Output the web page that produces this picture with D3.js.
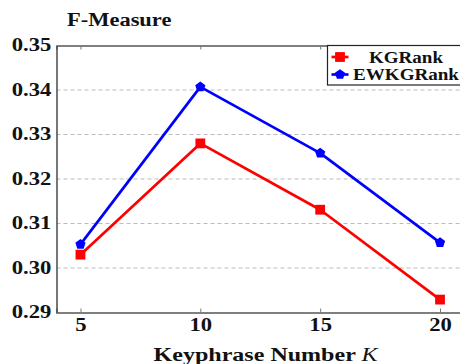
<!DOCTYPE html>
<html>
<head>
<meta charset="utf-8">
<script src="https://cdn.jsdelivr.net/npm/d3@7/dist/d3.min.js"></script>
<style>
  html, body { margin: 0; padding: 0; background: #fff; }
  svg { display: block; }
  text { font-family: "Liberation Serif", "DejaVu Serif", serif; font-weight: bold; fill: #111; }
</style>
</head>
<body>
<svg id="chart" width="460" height="364"></svg>
<script>
// Keyphrase number K on the x axis
const kValues = [5, 10, 15, 20];
// F-measure of each method
const kgRank = [0.303, 0.328, 0.3131, 0.2929];
const ewkgRank = [0.3053, 0.3407, 0.3258, 0.3057];
const seriesNames = ["KGRank", "EWKGRank"];
const seriesColors = ["#ff0000", "#0000ff"];
const yTicks = [0.29, 0.30, 0.31, 0.32, 0.33, 0.34, 0.35];

const serif = "'Liberation Serif', 'DejaVu Serif', serif";
const tickStretch = 1.26;   // widen the glyphs towards a Computer Modern look
const svg = d3.select("#chart");
const plot = { left: 56.5, right: 464, top: 45.5, bottom: 312.5 };

const x = d3.scaleLinear().domain([4, 21]).range([plot.left, plot.right]);
const y = d3.scaleLinear().domain([0.29, 0.35]).range([plot.bottom, plot.top]);

// place a text at (px, py) and stretch it horizontally to a given width
function label(parent, px, py, anchor, size, width) {
  const g = parent.append("g").attr("transform", `translate(${px},${py})`);
  const t = g.append("text").attr("text-anchor", anchor).attr("font-size", size);
  t.fit = () => {
    const w = t.node().getComputedTextLength();
    t.attr("transform", `scale(${width / w},1)`);
    return t;
  };
  return t;
}

// horizontal dashed grid
svg.append("g")
  .selectAll("line")
  .data(yTicks.slice(1, -1))
  .join("line")
  .attr("x1", plot.left).attr("x2", plot.right)
  .attr("y1", d => y(d)).attr("y2", d => y(d))
  .attr("stroke", "#bbb").attr("stroke-width", 1)
  .attr("stroke-dasharray", "4,3");

// axes
const xAxis = svg.append("g")
  .attr("transform", `translate(0,${plot.bottom})`)
  .call(d3.axisBottom(x).tickValues(kValues).tickSize(-4).tickPadding(6).tickFormat(d3.format("d")));
const xAxisTop = svg.append("g")
  .attr("transform", `translate(0,${plot.top})`)
  .call(d3.axisTop(x).tickValues(kValues).tickSize(-4).tickFormat(""));
const yAxis = svg.append("g")
  .attr("transform", `translate(${plot.left},0)`)
  .call(d3.axisLeft(y).tickValues(yTicks).tickSize(0).tickPadding(4).tickFormat(d3.format(".2f")));

[xAxis, xAxisTop, yAxis].forEach(g => {
  g.select(".domain").attr("stroke", "#555").attr("stroke-width", 1.6);
  g.selectAll(".tick line").attr("stroke", "#777").attr("stroke-width", 1);
  g.selectAll("text").attr("font-family", serif).attr("font-weight", "bold")
    .attr("font-size", 18).attr("fill", "#111")
    .attr("transform", `scale(${tickStretch},1)`);
});
yAxis.selectAll("text").attr("dy", "0.28em");
xAxis.selectAll("text").attr("dy", "0.71em");

// lines and markers
const seriesData = [kgRank, ewkgRank];
const line = d3.line().x((d, i) => x(kValues[i])).y(d => y(d));
const squareSym = d3.symbol().type(d3.symbolSquare).size(96);
const pentagon = {
  draw(ctx, size) {
    const r = Math.sqrt(size / 2.378);
    for (let i = 0; i < 5; i++) {
      const a = -Math.PI / 2 + i * 2 * Math.PI / 5;
      const px = r * Math.cos(a), py = r * Math.sin(a);
      if (i === 0) ctx.moveTo(px, py); else ctx.lineTo(px, py);
    }
    ctx.closePath();
  }
};
const pentSym = d3.symbol().type(pentagon).size(68);
const symbols = [squareSym, pentSym];

seriesData.forEach((vals, s) => {
  svg.append("path")
    .datum(vals)
    .attr("d", line)
    .attr("fill", "none")
    .attr("stroke", seriesColors[s])
    .attr("stroke-width", 2.7)
    .attr("stroke-linejoin", "round");
  svg.append("g")
    .selectAll("path")
    .data(vals)
    .join("path")
    .attr("transform", (d, i) => `translate(${x(kValues[i])},${y(d)})`)
    .attr("d", symbols[s]())
    .attr("fill", seriesColors[s]);
});

// legend
const legend = svg.append("g").attr("transform", "translate(327.5,45.5)");
legend.append("rect")
  .attr("width", 140).attr("height", 39.5)
  .attr("fill", "#fff").attr("stroke", "#222").attr("stroke-width", 1.2);
const legendWidths = [74, 106];
seriesNames.forEach((name, s) => {
  const cy = 11.5 + s * 17.5;
  legend.append("line")
    .attr("x1", 4).attr("x2", 21).attr("y1", cy).attr("y2", cy)
    .attr("stroke", seriesColors[s]).attr("stroke-width", 2.7);
  legend.append("path")
    .attr("transform", `translate(12.5,${cy})`)
    .attr("d", symbols[s]())
    .attr("fill", seriesColors[s]);
  label(legend, 78.5, cy + 5.5, "middle", 17, legendWidths[s]).text(name).fit();
});

// title and axis label
label(svg, 67, 25.7, "start", 19.5, 104.5).text("F-Measure").fit();

const xl = label(svg, 265.5, 361, "middle", 19.5, 224);
xl.append("tspan").text("Keyphrase Number ");
xl.append("tspan").attr("font-style", "italic").attr("font-weight", "normal").text("K");
xl.fit();
</script>
</body>
</html>
